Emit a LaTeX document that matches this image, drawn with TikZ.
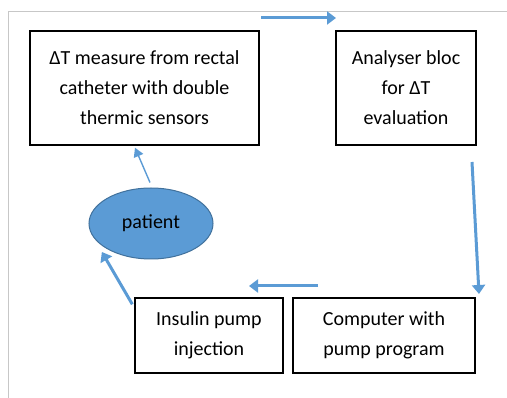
\documentclass[tikz,border=0pt]{standalone}
\usepackage{fontspec}
\setmainfont{Carlito}
\usepackage{tikz}
\usetikzlibrary{shapes.geometric, arrows.meta}
\definecolor{arrowblue}{HTML}{5B9BD5}
\definecolor{ellborder}{HTML}{41719C}
\tikzstyle{process} = [rectangle, text centered, draw=black, line width=1.4pt, fill=white, align=center, font=\fontsize{20}{30}\selectfont]
\tikzstyle{patientnode} = [ellipse, text centered, draw=ellborder, line width=1pt, fill=arrowblue, minimum width=124pt, minimum height=71pt, inner sep=0pt, font=\fontsize{20}{30}\selectfont]
\tikzstyle{arrow} = [line width=3pt, draw=arrowblue, -{Triangle[length=9pt,width=13pt]}]
\tikzstyle{thinarrow} = [line width=1.4pt, draw=arrowblue, -{Triangle[length=9pt,width=10pt]}]

\begin{document}
\begin{tikzpicture}[x=1pt, y=-1pt]
		\useasboundingbox (0,0) rectangle (507,398);
		% frame
		\draw [black!22, line width=0.8pt] (8,398) -- (8,11) -- (507,11);
		
		\node (meas) [process, minimum width=229pt, minimum height=114pt] at (144.5,88) {ΔT measure from rectal\\catheter with double\\thermic sensors};
		\node (anal) [process, minimum width=140pt, minimum height=114pt] at (406,88) {Analyser bloc\\for ΔT\\evaluation};
		\node (pump) [process, minimum width=148pt, minimum height=75pt] at (209,335.5) {Insulin pump\\injection};
		\node (comp) [process, minimum width=182pt, minimum height=75pt] at (384,335.5) {Computer with\\pump program};
		\node (patient) [patientnode] at (151,223.5) {patient};
		
		\coordinate (t1) at (261,18);
		\coordinate (t2) at (336,18);
		\coordinate (r1) at (472,162);
		\coordinate (r2) at (479,294);
		\coordinate (l1) at (318,286);
		\coordinate (l2) at (249,286);
		
		\draw [arrow] (t1) -- (t2);
		\draw [arrow] (r1) -- (r2);
		\draw [arrow] (l1) -- (l2);
		\draw [thinarrow] ([xshift=-1pt, yshift=5pt]patient.north) -- ([xshift=-9.5pt, yshift=-2pt]meas.south);
		\draw [arrow] ([xshift=-2pt, yshift=-7pt]pump.north west) -- ([xshift=-5pt, yshift=-3pt]patient.210);
		
		\end{tikzpicture}
\end{document}
